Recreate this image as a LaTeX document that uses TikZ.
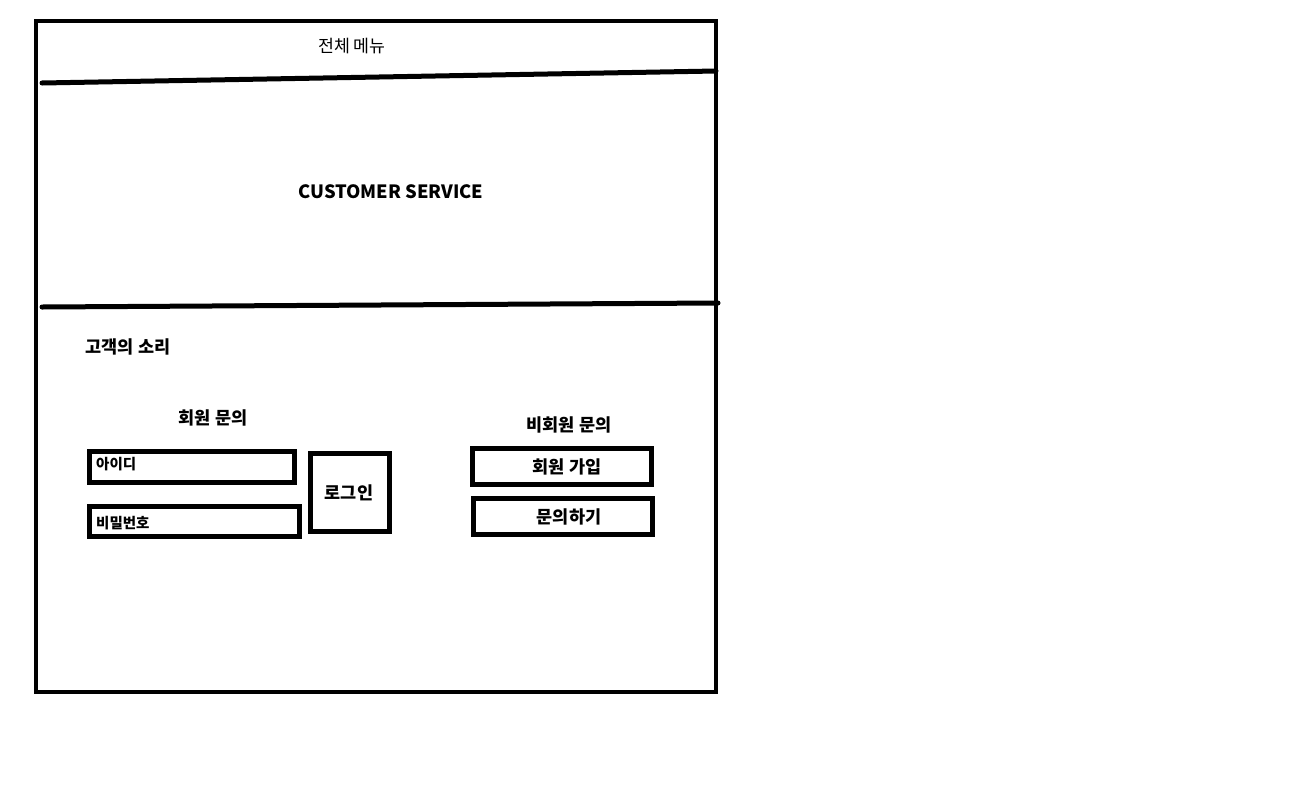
\documentclass[tikz,border=0pt]{standalone}
\usepackage{fontspec}
\setmainfont{Noto Sans CJK KR}
\newfontfamily\kr{Noto Sans CJK KR}
\begin{document}
\begin{tikzpicture}[x=1pt,y=-1pt,
  frame/.style={draw=black,line width=4.5pt},
  sep/.style={draw=black,line width=5pt,line cap=round},
  inbox/.style={draw=black,line width=5pt,fill=white},
  lbl/.style={font=\kr\bfseries\fontsize{17.5}{20}\selectfont,inner sep=0pt},
  small/.style={font=\kr\bfseries\fontsize{14.5}{16}\selectfont,inner sep=0pt,anchor=west}]
\useasboundingbox[fill=white] (0,0) rectangle (1310,796);
\draw[frame] (36,21) rectangle (716,692);
\coordinate (l1a) at (42,83);
\coordinate (l1b) at (716,71);
\coordinate (l2a) at (42,307);
\coordinate (l2b) at (718,303);
\draw[sep] (l1a) -- (l1b);
\draw[sep] (l2a) -- (l2b);
\node[font=\kr\fontsize{17.3}{19}\selectfont,inner sep=0pt] (menu) at (352,46) {전체 메뉴};
\node[font=\kr\bfseries\fontsize{18.3}{22}\selectfont,inner sep=0pt] (cs) at (391,192) {CUSTOMER SERVICE};
\node[lbl] (voc) at (128,347) {고객의 소리};
\node[lbl] (mem) at (213,418) {회원 문의};
\node[lbl] (nonmem) at (569,425) {비회원 문의};
\draw[inbox] (89,451) rectangle (294,482);
\node[small] (id) at (96,464) {아이디};
\draw[inbox] (89,506) rectangle (299,536);
\node[small] (pw) at (96,523) {비밀번호};
\draw[inbox] (310,453) rectangle (389,531);
\node[lbl] (login) at (349,493) {로그인};
\draw[inbox] (472,448) rectangle (651,484);
\node[lbl] (join) at (567,467) {회원 가입};
\draw[inbox] (473,498) rectangle (652,534);
\node[lbl] (ask) at (569,517) {문의하기};
\end{tikzpicture}
\end{document}
